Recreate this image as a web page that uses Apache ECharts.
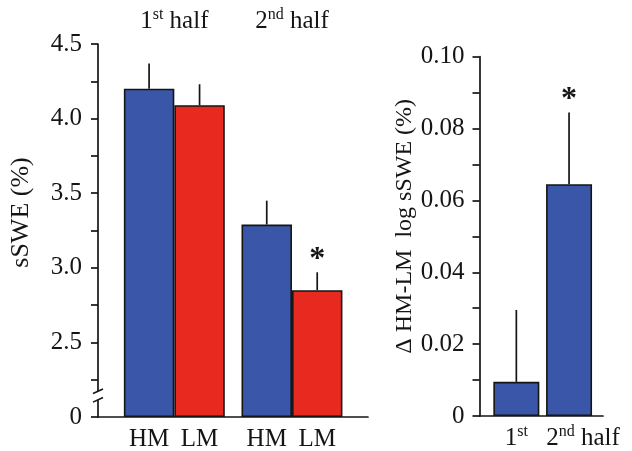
<!DOCTYPE html>
<html><head><meta charset="utf-8">
<script src="https://cdn.jsdelivr.net/npm/echarts@6/dist/echarts.min.js"></script>
<style>html,body{margin:0;padding:0;background:#fff}#c{width:632px;height:451px}</style>
</head><body><div id="c"></div>
<script>
// ---- data ----
const halves = ['1st half', '2nd half'];
const groups = ['HM', 'LM'];
const hmMean = [4.20, 3.29];
const hmErr = [0.17, 0.16];
const lmMean = [4.09, 2.85];
const lmErr = [0.14, 0.12];
const lmSig = [0, 1];
const diffCats = ['1st', '2nd'];
const diffMean = [0.0095, 0.0645];
const diffErr = [0.020, 0.020];
const diffSig = [0, 1];
const leftAxisBreakValue = 2.0;   // fake-axis origin, displayed as "0"

// ---- style ----
const FONT = 'Liberation Serif';
const INK = '#151515';
const BLUE = '#3a56a8';
const RED = '#e8291f';
const leftBarFrac = 0.429;
const rightBarFrac = 0.873;

const rich = {
  n: {fontFamily: FONT, fontSize: 25, color: INK, lineHeight: 28},
  s: {fontFamily: FONT, fontSize: 16, color: INK, verticalAlign: 'top', lineHeight: 28},
  g: {fontFamily: FONT, fontSize: 25, color: INK, width: 50.5, align: 'center', lineHeight: 28},
  sp: {width: 28}
};
const supFmt = s => {
  const m = s.match(/^(\d)(st|nd|rd|th)(.*)$/);
  return m ? '{n|' + m[1] + '}{s|' + m[2] + '}' + (m[3] ? '{n|' + m[3] + '}' : '') : '{n|' + s + '}';
};

const lineStyle = {color: INK, width: 1.7};

function errRender(frac) {
  return function (params, api) {
    const cat = api.value(0), mean = api.value(1), err = api.value(2), side = api.value(3), sig = api.value(4);
    const bw = api.size([1, 0])[0];
    const p0 = api.coord([cat, mean]);
    const p1 = api.coord([cat, mean + err]);
    const x = p0[0] + side * bw * frac / 2;
    const children = [{
      type: 'line', shape: {x1: x, y1: p0[1], x2: x, y2: p1[1]},
      style: {stroke: INK, lineWidth: 1.7}
    }];
    if (sig) {
      children.push({
        type: 'text', x: x, y: p1[1] - 13,
        style: {text: '*', fontFamily: FONT, fontSize: 32, fontWeight: 'bold', fill: INK, align: 'center', verticalAlign: 'middle'}
      });
    }
    return {type: 'group', children: children};
  };
}

const leftErrData = [];
for (let i = 0; i < halves.length; i++) {
  leftErrData.push([i, hmMean[i], hmErr[i], -1, 0]);
  leftErrData.push([i, lmMean[i], lmErr[i], 1, lmSig[i]]);
}
const rightErrData = diffMean.map((v, i) => [i, v, diffErr[i], 0, diffSig[i]]);

const chart = echarts.init(document.getElementById('c'), null, {renderer: 'canvas'});
chart.setOption({
  backgroundColor: '#fff',
  animation: false,
  grid: [
    {left: 98, top: 44, width: 270, height: 373, outerBoundsMode: 'none', containLabel: false},
    {left: 115.5, top: 44, width: 235.3, height: 373, outerBoundsMode: 'none', containLabel: false},
    {left: 479.5, top: 56.7, width: 123.5, height: 359.3, outerBoundsMode: 'none', containLabel: false},
    {left: 490, top: 56.7, width: 105.4, height: 359.3, outerBoundsMode: 'none', containLabel: false}
  ],
  xAxis: [
    {gridIndex: 0, type: 'value', min: 0, max: 1, position: 'bottom',
     axisLine: {show: true, onZero: false, lineStyle: lineStyle}, axisTick: {show: false}, axisLabel: {show: false}, splitLine: {show: false}},
    {gridIndex: 1, type: 'category', data: halves, position: 'bottom',
     axisLine: {show: false}, axisTick: {show: false}, splitLine: {show: false},
     axisLabel: {interval: 0, hideOverlap: false, margin: 8, formatter: () => groups.map(g => '{g|' + g + '}').join(''), rich: rich}},
    {gridIndex: 1, type: 'category', data: halves, position: 'top',
     axisLine: {show: false}, axisTick: {show: false}, splitLine: {show: false},
     axisLabel: {interval: 0, hideOverlap: false, margin: 9, formatter: supFmt, rich: rich}},
    {gridIndex: 2, type: 'value', min: 0, max: 1, position: 'bottom',
     axisLine: {show: true, onZero: false, lineStyle: lineStyle}, axisTick: {show: false}, axisLabel: {show: false}, splitLine: {show: false}},
    {gridIndex: 3, type: 'category', data: diffCats, position: 'bottom',
     axisLine: {show: false}, axisTick: {show: false}, splitLine: {show: false},
     axisLabel: {interval: 0, hideOverlap: false, margin: 8, rich: rich,
       formatter: (v, i) => (i === diffCats.length - 1 ? '{sp|}' + supFmt(v) + '{n| half}' : supFmt(v))}}
  ],
  yAxis: [
    {gridIndex: 0, type: 'value', min: leftAxisBreakValue, max: 4.5, interval: 0.25,
     axisLine: {show: true, lineStyle: lineStyle},
     axisTick: {show: true, inside: false, length: 7, lineStyle: lineStyle},
     splitLine: {show: false},
     axisLabel: {margin: 16, color: INK, fontFamily: FONT, fontSize: 25,
       formatter: v => Math.abs(v - leftAxisBreakValue) < 1e-9 ? '0' : (Math.abs(v * 2 - Math.round(v * 2)) < 1e-9 ? v.toFixed(1) : '')},
     name: 'sSWE (%)', nameLocation: 'middle', nameGap: 64,
     nameTextStyle: {fontFamily: FONT, fontSize: 26, color: INK, padding: [0, 0, 0, 36]}},
    {gridIndex: 1, type: 'value', min: leftAxisBreakValue, max: 4.5, startValue: leftAxisBreakValue, show: false},
    {gridIndex: 2, type: 'value', min: 0, max: 0.1, interval: 0.01,
     axisLine: {show: true, lineStyle: lineStyle},
     axisTick: {show: true, inside: false, length: 7, lineStyle: lineStyle},
     splitLine: {show: false},
     axisLabel: {margin: 15, color: INK, fontFamily: FONT, fontSize: 25,
       formatter: v => v === 0 ? '0' : (Math.round(v * 100) % 2 === 0 ? v.toFixed(2) : '')},
     name: 'Δ HM-LM  log sSWE (%)', nameLocation: 'middle', nameGap: 56,
     nameTextStyle: {fontFamily: FONT, fontSize: 24, color: INK, padding: [0, 0, 0, 20]}},
    {gridIndex: 3, type: 'value', min: 0, max: 0.1, show: false}
  ],
  series: [
    {type: 'bar', name: groups[0], xAxisIndex: 1, yAxisIndex: 1, data: hmMean,
     barWidth: (leftBarFrac * 100) + '%', barGap: '0%', clip: true,
     itemStyle: {color: BLUE, borderColor: INK, borderWidth: 1.6}},
    {type: 'bar', name: groups[1], xAxisIndex: 1, yAxisIndex: 1, data: lmMean,
     barWidth: (leftBarFrac * 100) + '%', barGap: '0%', clip: true,
     itemStyle: {color: RED, borderColor: INK, borderWidth: 1.6}},
    {type: 'custom', xAxisIndex: 1, yAxisIndex: 1, data: leftErrData, z: 5,
     encode: {x: 0, y: 1}, renderItem: errRender(leftBarFrac)},
    {type: 'bar', xAxisIndex: 4, yAxisIndex: 3, data: diffMean,
     barWidth: (rightBarFrac * 100) + '%', clip: true,
     itemStyle: {color: BLUE, borderColor: INK, borderWidth: 1.6}},
    {type: 'custom', xAxisIndex: 4, yAxisIndex: 3, data: rightErrData, z: 5,
     encode: {x: 0, y: 1}, renderItem: errRender(0)}
  ]
});

// axis-break decoration on the left y axis, placed from the axis scale
const yBase = chart.convertToPixel({yAxisIndex: 0}, leftAxisBreakValue);
const yTick = chart.convertToPixel({yAxisIndex: 0}, leftAxisBreakValue + 0.25);
const xAx = chart.convertToPixel({xAxisIndex: 0}, 0);
const span = yBase - yTick;
const yA = yBase - 0.69 * span, yB = yBase - 0.46 * span;
chart.setOption({
  graphic: [
    {type: 'rect', shape: {x: xAx - 3, y: yA, width: 6, height: yB - yA}, style: {fill: '#fff'}, z: 100},
    {type: 'line', shape: {x1: xAx - 5, y1: yA + 2.3, x2: xAx + 5, y2: yA - 2.3}, style: {stroke: INK, lineWidth: 1.6}, z: 101},
    {type: 'line', shape: {x1: xAx - 5, y1: yB + 2.3, x2: xAx + 5, y2: yB - 2.3}, style: {stroke: INK, lineWidth: 1.6}, z: 101}
  ]
});
</script>
</body></html>
